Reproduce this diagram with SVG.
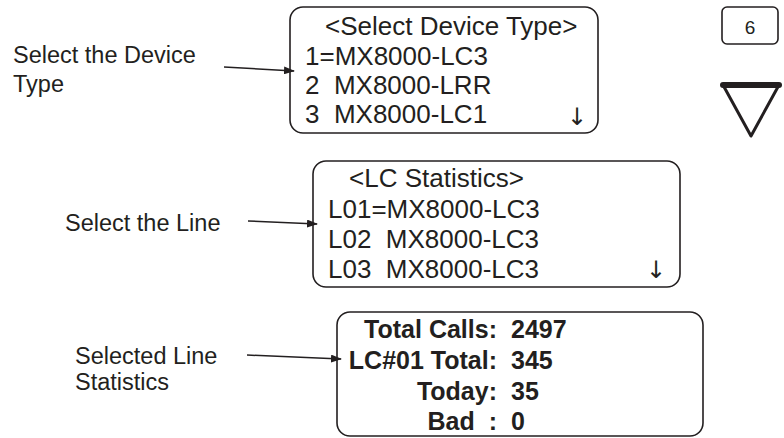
<svg xmlns="http://www.w3.org/2000/svg" width="784" height="438" viewBox="0 0 784 438">
<style>
.box{fill:none;stroke:#231f20;stroke-width:1.6}
.t{font-family:"Liberation Sans",Arial,sans-serif;fill:#231f20;white-space:pre}
.lcd{font-size:26px}
.lbl{font-size:23.5px}
.bd{font-size:25px;font-weight:bold}
.arr{font-family:"DejaVu Sans",sans-serif;font-size:24px;fill:#231f20}
.con{stroke:#231f20;stroke-width:1.5;fill:none}
</style>
<defs>
<marker id="ah" markerWidth="11" markerHeight="8" refX="10" refY="4" orient="auto" markerUnits="userSpaceOnUse">
<path d="M0,0 L11,4 L0,8 z" fill="#231f20"/>
</marker>
</defs>
<rect width="784" height="438" fill="#ffffff"/>
<g id="label-device">
<text class="t lbl" x="13" y="63">Select the Device</text>
<text class="t lbl" x="13" y="92">Type</text>
</g>
<g id="label-line">
<text class="t lbl" x="65" y="231">Select the Line</text>
</g>
<g id="label-stats">
<text class="t lbl" x="75" y="364">Selected Line</text>
<text class="t lbl" x="75" y="390">Statistics</text>
</g>
<g id="screen-device">
<rect class="box" x="290" y="7" width="308" height="126" rx="13"/>
<text class="t lcd" x="325" y="35">&lt;Select Device Type&gt;</text>
<text class="t lcd" x="305" y="65">1=MX8000-LC3</text>
<text class="t lcd" x="305" y="94">2  MX8000-LRR</text>
<text class="t lcd" x="305" y="123">3  MX8000-LC1</text>
<text class="arr" x="577" y="125" text-anchor="middle">&#x2193;&#xFE0E;</text>
</g>
<g id="screen-lc">
<rect class="box" x="313" y="161" width="367" height="126" rx="13"/>
<text class="t lcd" x="349" y="187">&lt;LC Statistics&gt;</text>
<text class="t lcd" x="328" y="218">L01=MX8000-LC3</text>
<text class="t lcd" x="328" y="248">L02  MX8000-LC3</text>
<text class="t lcd" x="328" y="278">L03  MX8000-LC3</text>
<text class="arr" x="656" y="278" text-anchor="middle">&#x2193;&#xFE0E;</text>
</g>
<g id="screen-stats">
<rect class="box" x="337" y="312" width="366" height="124" rx="13"/>
<text class="t bd" y="338"><tspan x="497" text-anchor="end">Total Calls:</tspan><tspan x="511">2497</tspan></text>
<text class="t bd" y="369"><tspan x="497" text-anchor="end">LC#01 Total:</tspan><tspan x="511">345</tspan></text>
<text class="t bd" y="400"><tspan x="497" text-anchor="end">Today:</tspan><tspan x="511">35</tspan></text>
<text class="t bd" y="430"><tspan x="497" text-anchor="end">Bad  :</tspan><tspan x="511">0</tspan></text>
</g>
<g id="key-6">
<rect class="box" x="722" y="7" width="56" height="37" rx="5" stroke-width="1.3"/>
<text class="t" x="750" y="34" font-size="19" text-anchor="middle">6</text>
</g>
<g id="key-down">
<polygon points="723,85 779,85 751,136" fill="none" stroke="#231f20" stroke-width="3" stroke-linejoin="round"/>
<line x1="723" y1="85" x2="779" y2="85" stroke="#231f20" stroke-width="6" stroke-linecap="round"/>
</g>
<g id="connectors">
<line class="con" x1="224" y1="67" x2="294" y2="71" marker-end="url(#ah)"/>
<line class="con" x1="248" y1="221" x2="317" y2="224" marker-end="url(#ah)"/>
<line class="con" x1="247" y1="355" x2="341" y2="359" marker-end="url(#ah)"/>
</g>
</svg>
